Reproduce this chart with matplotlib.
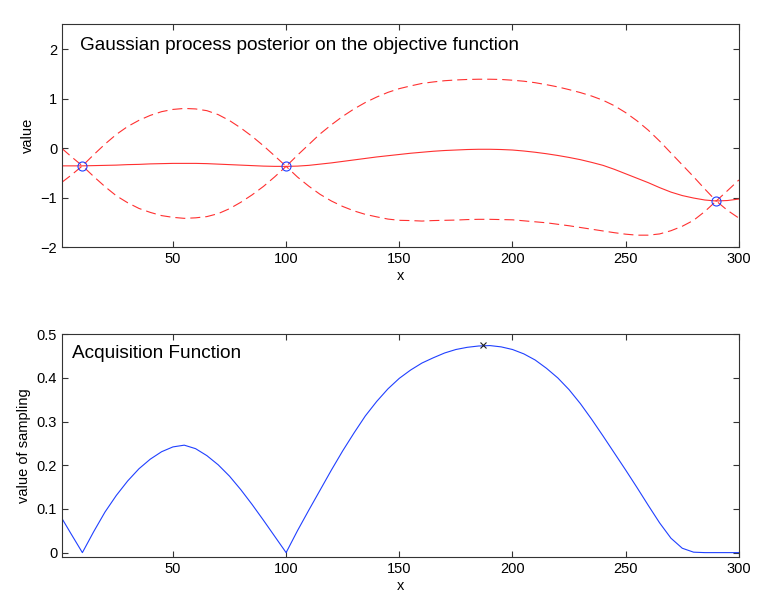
import matplotlib
matplotlib.use('Agg')
import matplotlib.pyplot as plt
from matplotlib.ticker import FormatStrFormatter

plt.rcParams['font.family'] = ['Liberation Sans', 'DejaVu Sans']

# grid of x positions
xs = [1] + list(range(5, 301, 5))

# GP posterior mean
mean = [-0.36, -0.36, -0.36, -0.355, -0.35, -0.345, -0.335, -0.33, -0.32, -0.315,
        -0.31, -0.31, -0.31, -0.315, -0.325, -0.335, -0.345, -0.355, -0.365, -0.37,
        -0.37, -0.365, -0.35, -0.325, -0.30, -0.27, -0.24, -0.21, -0.18, -0.155,
        -0.13, -0.105, -0.085, -0.065, -0.05, -0.04, -0.03, -0.025, -0.025, -0.03,
        -0.04, -0.06, -0.085, -0.115, -0.15, -0.19, -0.235, -0.29, -0.35, -0.43,
        -0.52, -0.61, -0.70, -0.80, -0.89, -0.96, -1.01, -1.05, -1.07, -1.06, -1.03]

upper = [-0.01, -0.17, -0.36, -0.135, 0.08, 0.275, 0.435, 0.56, 0.66, 0.735,
         0.78, 0.80, 0.79, 0.755, 0.675, 0.555, 0.405, 0.235, 0.045, -0.16,
         -0.37, -0.145, 0.07, 0.285, 0.47, 0.64, 0.79, 0.92, 1.03, 1.125,
         1.20, 1.255, 1.305, 1.335, 1.36, 1.375, 1.385, 1.39, 1.39, 1.385,
         1.37, 1.35, 1.32, 1.28, 1.235, 1.18, 1.12, 1.05, 0.965, 0.855,
         0.715, 0.55, 0.36, 0.14, -0.10, -0.34, -0.58, -0.83, -1.07, -0.86, -0.645]

lower = [-0.69, -0.55, -0.36, -0.575, -0.78, -0.965, -1.105, -1.22, -1.30, -1.365,
         -1.40, -1.42, -1.41, -1.385, -1.325, -1.225, -1.095, -0.945, -0.775, -0.58,
         -0.37, -0.585, -0.77, -0.935, -1.07, -1.18, -1.27, -1.34, -1.39, -1.435,
         -1.46, -1.465, -1.475, -1.465, -1.46, -1.455, -1.445, -1.44, -1.44, -1.445,
         -1.45, -1.47, -1.49, -1.51, -1.54, -1.57, -1.605, -1.64, -1.675, -1.71,
         -1.74, -1.76, -1.76, -1.735, -1.67, -1.58, -1.46, -1.28, -1.07, -1.26, -1.415]

# observed samples
obs_x = [10, 100, 290]
obs_y = [-0.36, -0.37, -1.07]

# acquisition function
acq = [0.078, 0.043, 0.0, 0.048, 0.093, 0.131, 0.164, 0.192, 0.214, 0.231,
       0.242, 0.246, 0.238, 0.222, 0.201, 0.175, 0.144, 0.110, 0.074, 0.037,
       0.0, 0.050, 0.097, 0.143, 0.189, 0.233, 0.274, 0.313, 0.346, 0.375,
       0.399, 0.418, 0.434, 0.446, 0.457, 0.465, 0.470, 0.473, 0.474, 0.471,
       0.465, 0.455, 0.441, 0.422, 0.400, 0.373, 0.341, 0.305, 0.267, 0.228,
       0.189, 0.149, 0.108, 0.068, 0.033, 0.010, 0.001, 0.0, 0.0, 0.0, 0.0]
best_x = 187
best_y = 0.475

red = '#ff3030'
blue = '#2040ff'

fig = plt.figure(figsize=(7.78, 6.07), dpi=100)
ax1 = fig.add_axes([0.0797, 0.593, 0.870, 0.367])
ax2 = fig.add_axes([0.0797, 0.0824, 0.870, 0.367])

ax1.plot(xs, mean, color=red, lw=0.8)
ax1.plot(xs, upper, color=red, lw=0.8, dashes=[9, 4.5])
ax1.plot(xs, lower, color=red, lw=0.8, dashes=[9, 4.5])
ax1.plot(obs_x, obs_y, 'o', mfc='none', mec=blue, ms=6.5, mew=0.8)
ax1.set_xlim(1, 300)
ax1.set_ylim(-2, 2.5)
ax1.set_yticks([-2, -1, 0, 1, 2])
ax1.set_xticks([50, 100, 150, 200, 250, 300])
ax1.set_xlabel('x', fontsize=10.5, labelpad=2)
ax1.set_ylabel('value', fontsize=10.5, labelpad=4)
ax1.text(0.027, 0.906, 'Gaussian process posterior on the objective function',
         transform=ax1.transAxes, fontsize=13.7, va='center', ha='left')

ax2.plot(xs, acq, color=blue, lw=0.8)
ax2.plot([best_x], [best_y], 'x', color='#202020', ms=5, mew=0.8)
ax2.set_xlim(1, 300)
ax2.set_ylim(-0.01, 0.5)
ax2.set_yticks([0, 0.1, 0.2, 0.3, 0.4, 0.5])
ax2.yaxis.set_major_formatter(FormatStrFormatter('%g'))
ax2.set_xticks([50, 100, 150, 200, 250, 300])
ax2.set_xlabel('x', fontsize=10.5, labelpad=2)
ax2.set_ylabel('value of sampling', fontsize=10.5, labelpad=4)
ax2.text(0.0143, 0.913, 'Acquisition Function',
         transform=ax2.transAxes, fontsize=13.7, va='center', ha='left')

for ax in (ax1, ax2):
    ax.tick_params(direction='in', top=True, right=True, length=4, width=0.8,
                   labelsize=10.5, color='#333333')
    for s in ax.spines.values():
        s.set_color('#333333')
        s.set_linewidth(0.8)

fig.savefig('out.png', dpi=100)
